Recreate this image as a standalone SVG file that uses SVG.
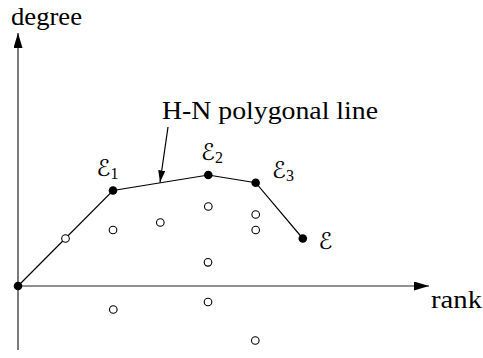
<svg xmlns="http://www.w3.org/2000/svg" width="483" height="358" viewBox="0 0 483 358">
<style>
.lbl{font-family:'Liberation Serif','Times New Roman',serif;font-size:25px;fill:#000}
.cal{font-family:'DejaVu Sans',sans-serif;font-size:23px}
.sub{font-family:'Liberation Serif','Times New Roman',serif;font-size:16px}
.axis{stroke:#222;stroke-width:1.2;fill:none}
.poly{stroke:#000;stroke-width:1.2;fill:none}
.open{fill:#fff;stroke:#000;stroke-width:1.1}
.fill{fill:#000}
</style>
<defs>
<marker id="axhead" markerUnits="userSpaceOnUse" viewBox="0 0 15 9" refX="15" refY="4.5" markerWidth="15" markerHeight="9" orient="auto">
<path d="M0,0 L15,4.5 L0,9 Z" fill="#000"/>
</marker>
<marker id="ptrhead" markerUnits="userSpaceOnUse" viewBox="0 0 12 7" refX="12" refY="3.5" markerWidth="12" markerHeight="7" orient="auto">
<path d="M0,0 L12,3.5 L0,7 Z" fill="#000"/>
</marker>
</defs>
<g id="axes">
<line class="axis" x1="18" y1="350" x2="18" y2="33" marker-end="url(#axhead)"/>
<line class="axis" x1="18" y1="286" x2="429" y2="286" marker-end="url(#axhead)"/>
<text class="lbl" x="11" y="24.5" textLength="71" lengthAdjust="spacingAndGlyphs">degree</text>
<text class="lbl" x="431" y="308" textLength="51" lengthAdjust="spacingAndGlyphs">rank</text>
</g>
<g id="connectors">
<polyline class="poly" points="18,286 113,190.5 208.3,175 255.7,182.7 302.8,238.5"/>
<line class="poly" x1="168" y1="127" x2="160" y2="182.5" marker-end="url(#ptrhead)"/>
</g>
<g id="label-hn">
<text class="lbl" x="162" y="119" textLength="216" lengthAdjust="spacingAndGlyphs">H-N polygonal line</text>
</g>
<g id="origin"><circle class="fill" cx="18" cy="286" r="4.3"/></g>
<g id="E1">
<circle class="fill" cx="113" cy="190.5" r="4.3"/>
<text x="96.5" y="176"><tspan class="cal">ℰ</tspan><tspan class="sub" dy="3">1</tspan></text>
</g>
<g id="E2">
<circle class="fill" cx="208.3" cy="175" r="4.3"/>
<text x="201" y="159.5"><tspan class="cal">ℰ</tspan><tspan class="sub" dy="3">2</tspan></text>
</g>
<g id="E3">
<circle class="fill" cx="255.7" cy="182.7" r="4.3"/>
<text x="272" y="177.5"><tspan class="cal">ℰ</tspan><tspan class="sub" dy="3">3</tspan></text>
</g>
<g id="E">
<circle class="fill" cx="302.8" cy="238.5" r="4.3"/>
<text x="318.5" y="248.5"><tspan class="cal">ℰ</tspan></text>
</g>
<g id="points">
<circle class="open" cx="65.5" cy="238.5" r="3.8"/>
<circle class="open" cx="113" cy="230" r="3.8"/>
<circle class="open" cx="160.3" cy="222.5" r="3.8"/>
<circle class="open" cx="208.3" cy="206.5" r="3.8"/>
<circle class="open" cx="255.7" cy="214.5" r="3.8"/>
<circle class="open" cx="255.7" cy="230" r="3.8"/>
<circle class="open" cx="208" cy="262.3" r="3.8"/>
<circle class="open" cx="208" cy="302" r="3.8"/>
<circle class="open" cx="113.3" cy="309.5" r="3.8"/>
<circle class="open" cx="255.3" cy="340.5" r="3.8"/>
</g>
</svg>
